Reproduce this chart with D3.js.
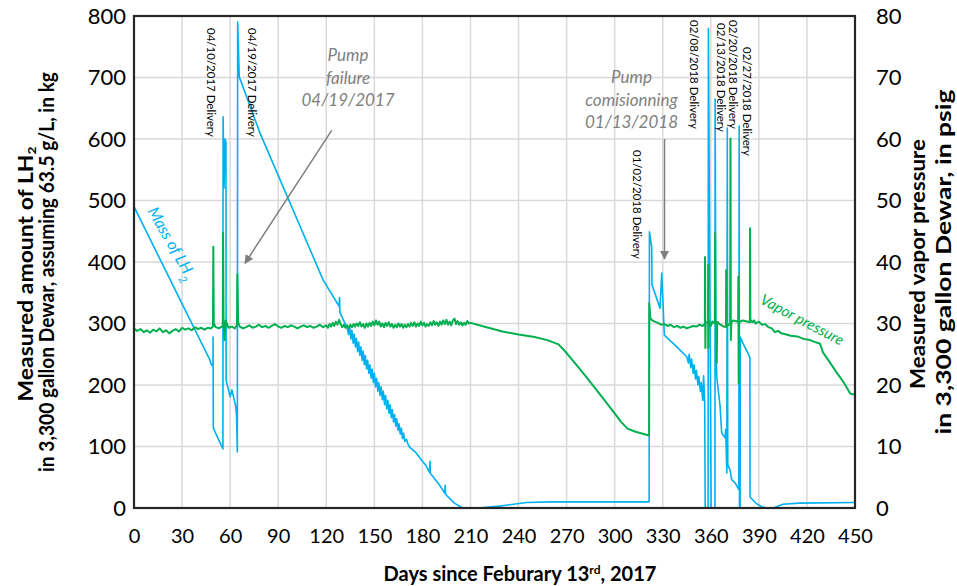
<!DOCTYPE html>
<html>
<head>
<meta charset="utf-8">
<script src="https://cdn.jsdelivr.net/npm/d3@7"></script>
<style>
   body { margin: 0; background: #fff; }
   svg { display: block; font-family: Lato, 'Open Sans', sans-serif; }
</style>
</head>
<body>
<svg id="chart" width="957" height="586"></svg>
<script>
"use strict"

// tick labels
const dayTicks = [0, 30, 60, 90, 120, 150, 180, 210, 240, 270, 300, 330, 360, 390, 420, 450]
const massTicks = [0, 100, 200, 300, 400, 500, 600, 700, 800]
const pressureTicks = [0, 10, 20, 30, 40, 50, 60, 70, 80]

// mass of LH2 in kg, [day, kg]
const mass = [
   [0, 490], [47.5, 240], [47.8, 236], [48.6, 232], [49.3, 232], [49.35, 278], [49.5, 130], [55.5, 96],
   [55.6, 636], [56.2, 520], [56.8, 600], [57.4, 595], [57.5, 208], [60, 181], [61.1, 192], [63.5, 165],
   [64, 150], [64.5, 91], [64.7, 790], [65.7, 701], [78.6, 610], [118, 371], [128, 328], [128.3, 342],
   [128.5, 318], [133, 293],
   [134, 282], [134.6, 296], [135.4, 275], [136, 289], [136.8, 268], [137.4, 283], [138.2, 262], [138.8, 276],
   [139.6, 254], [140.2, 270], [141, 248], [141.6, 262], [142.4, 240], [143, 255], [143.8, 233], [144.4, 248],
   [145.2, 226], [145.8, 240], [146.6, 219], [147.2, 233], [148, 211], [148.6, 226], [149.4, 204], [150, 219],
   [150.8, 197], [151.4, 211], [152.2, 190], [152.8, 204], [153.6, 183], [154.2, 197], [155, 176], [155.6, 190],
   [156.4, 168], [157, 183], [157.8, 161], [158.4, 175], [159.2, 154], [159.8, 168], [160.6, 147], [161.2, 160],
   [162, 140], [162.6, 152], [163.4, 133], [164, 145], [164.8, 126], [165.4, 137], [166.2, 120], [166.8, 130],
   [167.6, 113], [168.2, 122], [169, 108], [170, 112], [171, 104], [172, 99],
   [176, 90], [180, 76], [182, 70], [184.5, 58], [184.7, 76], [185, 56], [190, 40], [194, 24], [194.2, 37],
   [194.5, 22], [200, 8], [205, 0], [215, 0], [228, 3], [245, 9], [260, 10], [321.5, 10],
   [321.7, 449], [323.1, 425], [323.3, 363], [328.3, 325], [329.4, 382], [331, 281], [338, 264], [345, 246],
   [346, 236], [346.5, 250], [347.5, 228], [348, 242], [349, 219], [349.5, 233], [350.5, 210], [351, 224],
   [352, 200], [352.5, 214], [353.5, 190], [354, 204], [355, 175], [355.5, 215], [356.2, 172], [356.5, 0],
   [358.3, 0], [358.5, 780], [360.2, 0], [362.6, 0], [362.7, 665], [363.2, 265], [363.7, 214], [365.8, 165],
   [366.8, 122], [368.9, 114], [369.3, 128], [370, 57], [370.3, 618], [370.6, 70], [372, 62], [373, 46],
   [375.2, 41], [376.4, 35], [377.5, 30], [377.7, 621], [377.9, 0], [378.3, 0], [378.4, 278], [380, 268],
   [382, 258], [384.4, 245], [384.5, 18], [388, 8], [391.8, 2], [394.9, 0], [398.9, 0], [405.1, 6],
   [415, 8], [450, 9]
]

// vapor pressure in psig, [day, psig]
const pressure = [
   [0, 29.2], [2, 28.8], [4, 29.1], [6, 28.6], [8, 28.9], [10, 28.5], [12, 29.0], [14, 28.7], [16, 29.2],
   [18, 28.6], [20, 28.9], [22, 28.4], [24, 28.8], [26, 29.1], [28, 28.7], [30, 29.3], [32, 29.0], [34, 29.2],
   [36, 28.9], [38, 29.4], [40, 29.1], [42, 29.3], [44, 29.0], [46, 29.3], [48, 29.2], [49.3, 29.5],
   [49.5, 42.5], [49.8, 30.0], [51, 29.4], [53, 29.2], [55.4, 29.6], [55.6, 44.7], [55.9, 30.0], [56.5, 27.3],
   [57.2, 30.5], [59, 29.3], [61, 29.5], [63, 29.2], [64.3, 29.8], [64.5, 38.0], [65, 30.2],
   [66, 29.5], [68, 29.2], [70, 29.4], [72, 29.7], [74, 29.3], [76, 29.5], [78, 29.8], [80, 29.4], [82, 29.6],
   [84, 29.3], [86, 29.6], [88, 29.9], [90, 29.5], [92, 29.3], [94, 29.6], [96, 29.4], [98, 29.7], [100, 29.5],
   [102, 29.2], [104, 29.5], [106, 29.7], [108, 29.4], [110, 29.6], [112, 29.3], [114, 29.5], [116, 29.8],
   [118, 29.4], [120, 29.7], [121, 29.3], [122, 29.9], [123, 29.5], [124, 30.1], [125, 29.6], [126, 30.3],
   [127, 29.8], [128, 30.6], [129, 29.9], [130, 29.4], [131, 29.8], [132, 29.3], [133, 29.7], [134, 29.2],
   [135, 29.8], [136, 29.4], [137, 29.9], [138, 29.5], [139, 30.0], [140, 29.6], [141, 30.2], [142, 29.5],
   [143, 29.9], [144, 29.3], [145, 30.0], [146, 29.5], [147, 30.1], [148, 29.6], [149, 30.3], [150, 29.7],
   [151, 30.5], [152, 29.8], [153, 30.3], [154, 29.5], [155, 30.0], [156, 29.4], [157, 30.1], [158, 29.6],
   [159, 30.2], [160, 29.5], [161, 29.9], [162, 29.3], [163, 29.8], [164, 29.4], [165, 30.0], [166, 29.5],
   [167, 29.9], [168, 29.3], [169, 29.8], [170, 29.4], [171, 29.9], [172, 29.5], [173, 30.1], [174, 29.6],
   [175, 30.2], [176, 29.5], [177, 30.0], [178, 29.6], [179, 30.3], [180, 29.7], [181, 30.1], [182, 29.5],
   [183, 29.9], [184, 29.6], [185, 30.2], [186, 29.7], [187, 30.4], [188, 29.8], [189, 30.2], [190, 29.6],
   [191, 30.3], [192, 29.8], [193, 30.5], [194, 29.9], [195, 30.6], [196, 29.8], [197, 30.3], [198, 29.7],
   [199, 30.5], [200, 30.8], [201, 29.9], [202, 30.4], [203, 29.8], [204, 30.2], [205, 29.7], [206, 30.1],
   [207, 29.8], [208, 30.4], [209, 30.0], [210, 30.1],
   [220, 29.4], [230, 28.7], [240, 28.2], [250, 27.8], [258, 27.3], [265, 26.6], [270, 25.2], [276, 23.3],
   [282, 21.4], [288, 19.4], [294, 17.4], [300, 15.4], [304, 14.0], [308, 12.9], [313, 12.4], [321.5, 11.8],
   [321.6, 33.3], [322.2, 31.0], [323, 30.6], [325, 30.3], [327, 30.1], [329, 29.8], [331, 29.9],
   [333, 29.6], [335, 29.8], [337, 29.4], [339, 29.6], [341, 29.3], [343, 29.5], [345, 29.2], [347, 29.4],
   [349, 29.6], [351, 29.5], [353, 29.8], [355, 29.6], [356.3, 29.9], [356.4, 40.8], [356.6, 26.0],
   [356.8, 30.2], [358.3, 30.2], [358.4, 39.5], [358.5, 26.0], [358.7, 30.5], [360, 29.6], [361, 30.3],
   [362.5, 30.0], [362.7, 44.7], [362.9, 30.0], [363.6, 30.2], [363.7, 23.6], [364, 30.3], [366, 29.8],
   [368, 29.5], [369.5, 29.4], [369.6, 38.7], [369.8, 29.5], [372.1, 30.0], [372.3, 60.1], [372.5, 27.3],
   [372.8, 30.2], [374, 30.5], [377.1, 30.3], [377.2, 37.6], [377.4, 20.3], [377.6, 30.2], [380, 30.5],
   [384.4, 30.2], [384.5, 45.5], [384.7, 30.6], [386, 30.2], [387, 30.5], [388, 30.0], [390, 30.3],
   [392, 29.8], [394, 29.9], [396, 29.4], [398, 29.2], [400, 28.6], [402, 28.8], [404, 28.4], [406, 28.3],
   [410, 28.0], [414, 27.9], [418, 27.5], [422, 27.3], [426, 26.9], [428.2, 26.7], [430, 25.3], [434, 23.8],
   [438.6, 22.0], [443, 20.4], [447, 18.6], [450, 18.4]
]

// delivery labels, [text, day of delivery]
const deliveries = [
   ['04/10/2017 Delivery', 56],
   ['04/19/2017 Delivery', 65],
   ['01/02/2018 Delivery', 323],
   ['02/08/2018 Delivery', 360],
   ['02/13/2018 Delivery', 365],
   ['02/20/2018 Delivery', 372],
   ['02/27/2018 Delivery', 379]
]

const pl = 134, pr = 855, pt = 16, pb = 508
const blue = '#00b0f0', green = '#00b050', grey = '#7f7f7f'

const x = d3.scaleLinear([0, 450], [pl, pr])
const yM = d3.scaleLinear([0, 800], [pb, pt])
const yP = d3.scaleLinear([0, 80], [pb, pt])

const svg = d3.select('#chart')

svg.append('defs').append('marker')
   .attr('id', 'arrow')
   .attr('viewBox', '0 0 10 10')
   .attr('refX', 9).attr('refY', 5)
   .attr('markerWidth', 6).attr('markerHeight', 6)
   .attr('markerUnits', 'strokeWidth')
   .attr('orient', 'auto')
   .append('path')
      .attr('d', 'M0,0 L10,5 L0,10 Z')
      .attr('fill', grey)

// grid
svg.append('g')
   .selectAll('line')
   .data(dayTicks)
   .join('line')
      .attr('x1', d => x(d)).attr('x2', d => x(d))
      .attr('y1', pt).attr('y2', pb)
      .attr('stroke', '#d9d9d9').attr('stroke-width', 1.5)

svg.append('g')
   .selectAll('line')
   .data(massTicks)
   .join('line')
      .attr('x1', pl).attr('x2', pr)
      .attr('y1', d => yM(d)).attr('y2', d => yM(d))
      .attr('stroke', '#d9d9d9').attr('stroke-width', 1.5)

// series
const lineM = d3.line().x(d => x(d[0])).y(d => yM(d[1]))
const lineP = d3.line().x(d => x(d[0])).y(d => yP(d[1]))

svg.append('path')
   .datum(mass)
   .attr('d', lineM)
   .attr('fill', 'none')
   .attr('stroke', blue)
   .attr('stroke-width', 1.6)
   .attr('stroke-linejoin', 'round')

svg.append('path')
   .datum(pressure)
   .attr('d', lineP)
   .attr('fill', 'none')
   .attr('stroke', green)
   .attr('stroke-width', 2)
   .attr('stroke-linejoin', 'round')

// frame
svg.append('rect')
   .attr('x', pl).attr('y', pt)
   .attr('width', pr - pl).attr('height', pb - pt)
   .attr('fill', 'none')
   .attr('stroke', '#262626')
   .attr('stroke-width', 2.2)

// axes
const axL = svg.append('g')
   .attr('transform', `translate(${pl - 8}, 0)`)
   .call(d3.axisLeft(yM).tickValues(massTicks).tickSize(0).tickPadding(0))
const axR = svg.append('g')
   .attr('transform', `translate(${pr + 21}, 0)`)
   .call(d3.axisRight(yP).tickValues(pressureTicks).tickSize(0).tickPadding(0))
const axB = svg.append('g')
   .attr('transform', `translate(0, ${pb + 21})`)
   .call(d3.axisBottom(x).tickValues(dayTicks).tickSize(0).tickPadding(0))

for (const ax of [axL, axR, axB]) {
   ax.select('.domain').remove()
   ax.selectAll('text')
      .attr('font-family', 'Lato, sans-serif')
      .attr('font-size', 22)
      .attr('fill', '#000')
}
axB.selectAll('text').attr('font-size', 20)

// axis titles
const title = (tx, ty, rot, parts, len) => {
   const t = svg.append('text')
      .attr('transform', `translate(${tx}, ${ty}) rotate(${rot})`)
      .attr('text-anchor', 'middle')
      .attr('font-weight', 'bold')
      .attr('font-size', 20)
   if (len) t.attr('textLength', len).attr('lengthAdjust', 'spacingAndGlyphs')
   parts.forEach(p => {
      const s = t.append('tspan').text(p[0])
      if (p[1]) s.attr('baseline-shift', p[1]).attr('font-size', 12)
   })
   return t
}
title(33, 274, -90, [['Measured amount of LH'], ['2', -3]], 255)
title(54, 272, -90, [['in 3,300 gallon Dewar, assuming 63.5 g/L, in kg']], 400)
title(925, 264, -90, [['Measured vapor pressure']], 250)
title(951, 262, -90, [['in 3,300 gallon Dewar, in psig']], 345)
title(520, 581, 0, [['Days since Feburary 13'], ['rd', 'super'], [', 2017']])

// delivery labels
const labelPos = [[-16.7, 28], [9.9, 28], [-18.4, 150], [-20.7, 20], [-2.2, 23], [-1, 20], [1.3, 47]]
svg.append('g')
   .selectAll('text')
   .data(deliveries)
   .join('text')
      .attr('transform', (d, i) => `translate(${x(d[1]) + labelPos[i][0]}, ${labelPos[i][1]}) rotate(90)`)
      .attr('font-size', 11.5)
      .attr('fill', '#000')
      .text(d => d[0])

// annotations
const note = (cx, lines, y0) => {
   svg.append('text')
      .attr('text-anchor', 'middle')
      .attr('font-style', 'italic')
      .attr('font-size', 17)
      .attr('fill', grey)
      .selectAll('tspan')
      .data(lines)
      .join('tspan')
         .attr('x', cx)
         .attr('y', (d, i) => y0 + i * 22.5)
         .text(d => d)
}
note(x(133.6), ['Pump', 'failure', '04/19/2017'], 61)
note(x(310.5), ['Pump', 'comisionning', '01/13/2018'], 83)

svg.append('line')
   .attr('x1', x(123.4)).attr('y1', yM(614))
   .attr('x2', x(69.3)).attr('y2', yM(398))
   .attr('stroke', grey).attr('stroke-width', 1.5)
   .attr('marker-end', 'url(#arrow)')

svg.append('line')
   .attr('x1', x(331.1)).attr('y1', yM(600))
   .attr('x2', x(331.1)).attr('y2', yM(405))
   .attr('stroke', grey).attr('stroke-width', 1.5)
   .attr('marker-end', 'url(#arrow)')

svg.append('text')
   .attr('transform', `translate(147, 211) rotate(60)`)
   .attr('font-style', 'italic')
   .attr('font-size', 16)
   .attr('fill', blue)
   .call(t => {
      t.append('tspan').text('Mass of LH')
      t.append('tspan').attr('baseline-shift', 'sub').attr('font-size', 11).text('2')
   })

svg.append('text')
   .attr('transform', `translate(759, 303) rotate(27.8)`)
   .attr('font-style', 'italic')
   .attr('font-size', 15)
   .attr('fill', green)
   .text('Vapor pressure')
</script>
</body>
</html>
